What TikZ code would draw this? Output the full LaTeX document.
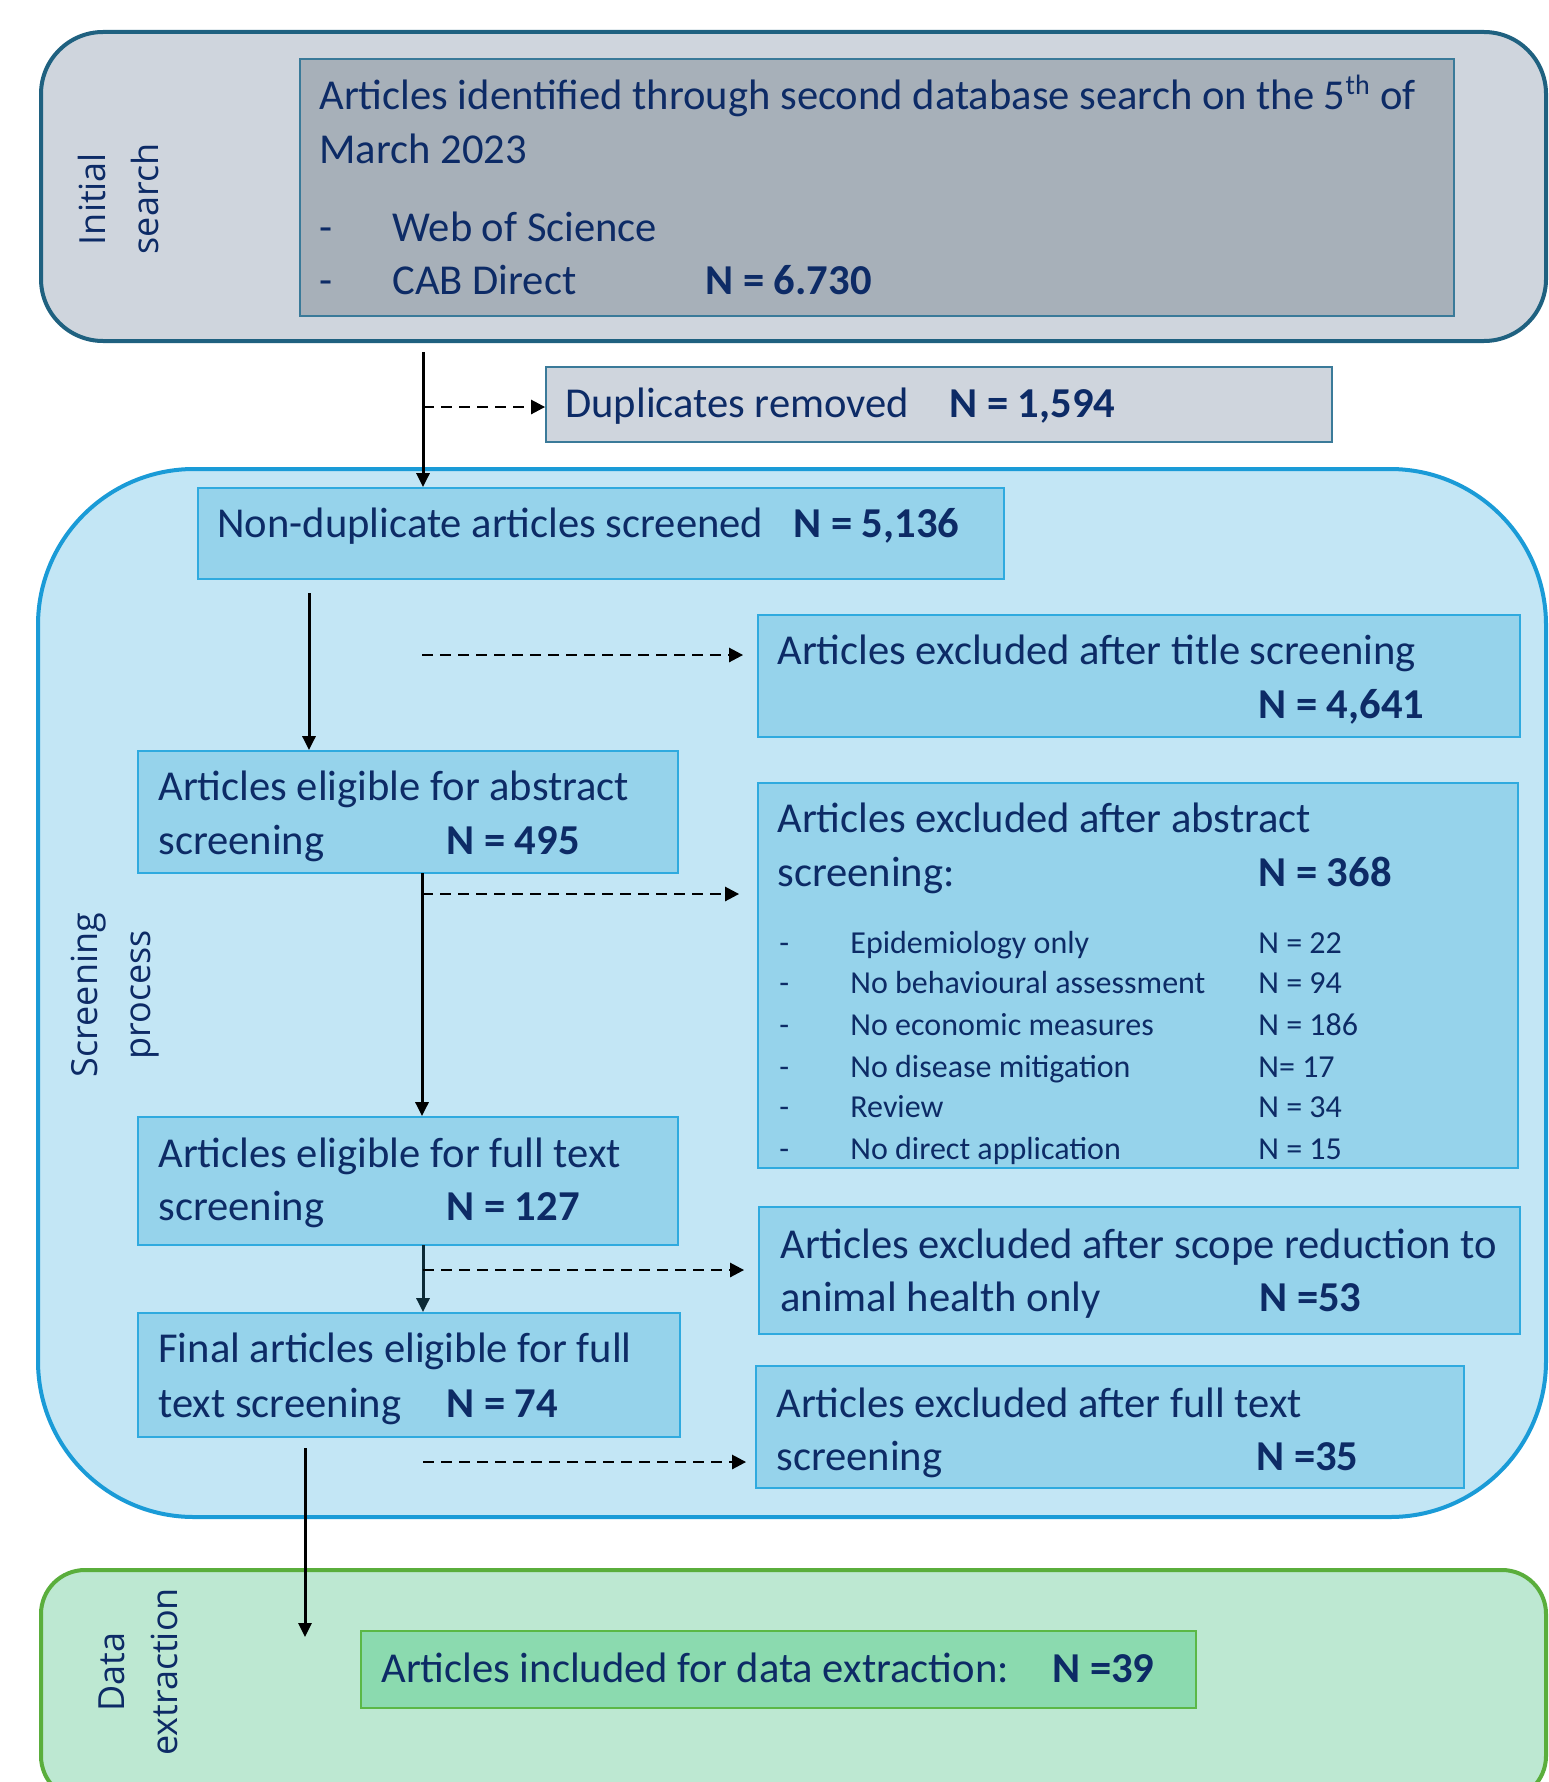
\documentclass[tikz,border=0pt]{standalone}
\usepackage{fontspec}
\setmainfont{Carlito}
\newfontfamily\lblfont{Open Sans}
\usetikzlibrary{fit,arrows.meta}
\definecolor{txtc}{HTML}{0D2B66}
\definecolor{grayf}{HTML}{CFD5DD}
\definecolor{grayd}{HTML}{1F6180}
\definecolor{innerf}{HTML}{A7B0B9}
\definecolor{innerd}{HTML}{3A7A99}
\definecolor{scrf}{HTML}{C3E6F5}
\definecolor{scrd}{HTML}{1A9BD7}
\definecolor{boxf}{HTML}{96D3EB}
\definecolor{boxd}{HTML}{2FAADF}
\definecolor{dataf}{HTML}{BDE8D2}
\definecolor{datad}{HTML}{5AAE3C}
\definecolor{inclf}{HTML}{8BDAAF}
\definecolor{incld}{HTML}{5BB846}
\definecolor{darkarr}{HTML}{0B2A36}
\begin{document}
\begin{tikzpicture}[x=0.5pt,y=-0.5pt,
  txt/.style={text=txtc, font=\fontsize{21.3}{26.5}\selectfont, inner sep=0pt, anchor=base west},
  sm/.style={text=txtc, font=\fontsize{16}{20}\selectfont, inner sep=0pt, anchor=base west},
  lbl/.style={text=txtc, font=\lblfont\fontsize{18}{26.5}\selectfont, rotate=90, align=center, inner sep=0pt},
  stage/.style={inner sep=0pt, line width=2pt},
  bx/.style={draw=boxd, fill=boxf, line width=0.9pt, inner sep=0pt},
  arr/.style={line width=1.5pt, -{Triangle[length=7pt,width=6.5pt]}},
  darr/.style={line width=1.3pt, dash pattern=on 5.5pt off 3.5pt, -{Triangle[length=7pt,width=7pt]}}
]
\useasboundingbox (0,0) rectangle (1548,1782);
\fill[white] (0,0) rectangle (1548,1782);

% stages
\node[stage, draw=grayd, fill=grayf, rounded corners=31pt, fit={(41,32) (1546,341)}] (stage1) {};
\node[stage, draw=scrd, fill=scrf, rounded corners=78pt, fit={(38,469) (1546,1517)}] (stage2) {};
\node[stage, draw=datad, fill=dataf, rounded corners=22pt, fit={(41,1570) (1546,1800)}] (stage3) {};

\node[lbl] (lab1) at (118,199) {Initial\\search};
\node[lbl] (lab2) at (115,995) {Screening\\process};
\node[lbl] (lab3) at (138,1672) {Data\\extraction};

% boxes
\node[draw=innerd, fill=innerf, line width=0.9pt, inner sep=0pt, fit={(300,59) (1454,316)}] (ident) {};
\node[draw=innerd, fill=grayf, line width=0.9pt, inner sep=0pt, fit={(546,367) (1332,442)}] (dup) {};
\node[bx, fit={(198,488) (1004,579)}] (nondup) {};
\node[bx, fit={(758,615) (1520,737)}] (titex) {};
\node[bx, fit={(138,751) (678,873)}] (abse) {};
\node[bx, fit={(758,783) (1518,1168)}] (absex) {};
\node[bx, fit={(138,1117) (678,1245)}] (fulle) {};
\node[bx, fit={(759,1207) (1520,1334)}] (scope) {};
\node[bx, fit={(138,1313) (680,1437)}] (final) {};
\node[bx, fit={(756,1366) (1464,1488)}] (fullex) {};
\node[draw=incld, fill=inclf, line width=0.9pt, inner sep=0pt, fit={(361,1631) (1196,1708)}] (incl) {};

% texts
\node[txt] (t1) at (319,110) {Articles identified through second database search on the 5\textsuperscript{\fontsize{14}{14}\selectfont th} of};
\node[txt] (t2) at (319,163) {March 2023};
\node[txt] (t3) at (319,241) {-};
\node[txt] (t3b) at (392,241) {Web of Science};
\node[txt] (t4) at (319,294) {-};
\node[txt] (t4b) at (392,294) {CAB Direct};
\node[txt] (t4c) at (705,294) {\textbf{N = 6.730}};

\node[txt] (d1) at (565,417) {Duplicates removed};
\node[txt] (d2) at (949,417) {\textbf{N = 1,594}};

\node[txt] (n1) at (217,537) {Non-duplicate articles screened};
\node[txt] (n2) at (793,537) {\textbf{N = 5,136}};

\node[txt] (e1) at (777,664) {Articles excluded after title screening};
\node[txt] (e2) at (1258,718) {\textbf{N = 4,641}};

\node[txt] (a1) at (158,800) {Articles eligible for abstract};
\node[txt] (a2) at (158,854) {screening};
\node[txt] (a3) at (446,854) {\textbf{N = 495}};

\node[txt] (x1) at (777,832) {Articles excluded after abstract};
\node[txt] (x2) at (777,886) {screening:};
\node[txt] (x3) at (1258,886) {\textbf{N = 368}};

\node[sm] (l1a) at (779,953) {-};
\node[sm] (l1b) at (850,953) {Epidemiology only};
\node[sm] (l1c) at (1258,953) {N = 22};
\node[sm] (l2a) at (779,993) {-};
\node[sm] (l2b) at (850,993) {No behavioural assessment};
\node[sm] (l2c) at (1258,993) {N = 94};
\node[sm] (l3a) at (779,1035) {-};
\node[sm] (l3b) at (850,1035) {No economic measures};
\node[sm] (l3c) at (1258,1035) {N = 186};
\node[sm] (l4a) at (779,1077) {-};
\node[sm] (l4b) at (850,1077) {No disease mitigation};
\node[sm] (l4c) at (1258,1077) {N= 17};
\node[sm] (l5a) at (779,1117) {-};
\node[sm] (l5b) at (850,1117) {Review};
\node[sm] (l5c) at (1258,1117) {N = 34};
\node[sm] (l6a) at (779,1159) {-};
\node[sm] (l6b) at (850,1159) {No direct application};
\node[sm] (l6c) at (1258,1159) {N = 15};

\node[txt] (f1) at (158,1167) {Articles eligible for full text};
\node[txt] (f2) at (158,1220) {screening};
\node[txt] (f3) at (446,1220) {\textbf{N = 127}};

\node[txt] (s1) at (780,1258) {Articles excluded after scope reduction to};
\node[txt] (s2) at (780,1311) {animal health only};
\node[txt] (s3) at (1259,1311) {\textbf{N =53}};

\node[txt] (g1) at (158,1362) {Final articles eligible for full};
\node[txt] (g2) at (158,1417) {text screening};
\node[txt] (g3) at (446,1417) {\textbf{N = 74}};

\node[txt] (h1) at (776,1417) {Articles excluded after full text};
\node[txt] (h2) at (776,1470) {screening};
\node[txt] (h3) at (1256,1470) {\textbf{N =35}};

\node[txt] (i1) at (381,1682) {Articles included for data extraction:};
\node[txt] (i2) at (1052,1682) {\textbf{N =39}};

% connectors
\coordinate (c1s) at (423,352);
\coordinate (c1d) at (423,407);
\draw[arr] (c1s) -- (c1s |- nondup.north);
\draw[darr] (c1d) -- (c1d -| dup.west);

\coordinate (c2s) at (309,593);
\coordinate (c2d) at (422,655);
\draw[arr] (c2s) -- (c2s |- abse.north);
\draw[darr, shorten >=7pt] (c2d) -- (c2d -| titex.west);

\coordinate (c3s) at (422,873);
\coordinate (c3d) at (422,894);
\draw[arr] (c3s) -- (c3s |- fulle.north);
\draw[darr, shorten >=9pt] (c3d) -- (c3d -| absex.west);

\coordinate (c4s) at (423,1245);
\coordinate (c4d) at (423,1270);
\draw[arr, draw=darkarr, fill=darkarr] (c4s) -- (c4s |- final.north);
\draw[darr, shorten >=7pt] (c4d) -- (c4d -| scope.west);

\coordinate (c5d) at (423,1462);
\draw[darr, shorten >=4.5pt] (c5d) -- (c5d -| fullex.west);

\coordinate (c6s) at (305,1448);
\coordinate (c6e) at (305,1637);
\draw[arr] (c6s) -- (c6e);
\end{tikzpicture}
\end{document}
